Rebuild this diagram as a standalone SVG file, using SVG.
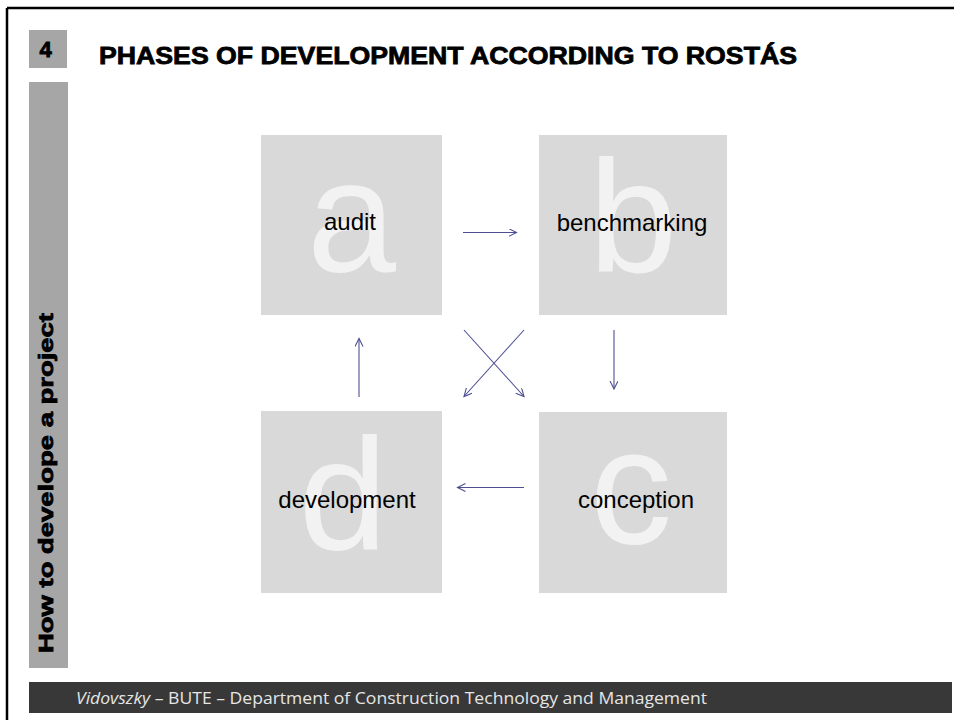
<svg xmlns="http://www.w3.org/2000/svg" width="954" height="720" viewBox="0 0 954 720">
<defs>
<style>
.box{fill:#d9d9d9}
.big{font-family:"Liberation Sans",Arial,sans-serif;fill:#f2f2f2;text-anchor:middle}
.lbl{font-family:"Liberation Sans",Arial,sans-serif;font-size:24px;fill:#000;text-anchor:middle}
.conn line{stroke:#4d4f91;stroke-width:1.1;fill:none;marker-end:url(#ah)}
.heavy{font-family:"Liberation Sans",Arial,sans-serif;font-weight:bold;fill:#000;stroke:#000;stroke-width:0.8}
</style>
<marker id="ah" markerWidth="10" markerHeight="10" refX="8" refY="4" orient="auto" markerUnits="userSpaceOnUse">
<path d="M0,0 L8,4 L0,8" fill="none" stroke="#4d4f91" stroke-width="1.1"/>
</marker>
</defs>
<rect x="0" y="0" width="954" height="720" fill="#fff"/>
<g id="frame">
<line x1="7" y1="8" x2="954" y2="8" stroke="#000" stroke-width="2.5"/>
<line x1="7" y1="8" x2="7" y2="720" stroke="#000" stroke-width="2.5"/>
</g>
<g id="slide-number">
<rect x="29" y="30" width="38" height="38" fill="#a6a6a6"/>
<text x="45.5" y="57" class="heavy" font-size="22" text-anchor="middle">4</text>
</g>
<g id="title">
<text x="99" y="64" class="heavy" font-size="24" textLength="698" lengthAdjust="spacingAndGlyphs">PHASES OF DEVELOPMENT ACCORDING TO ROSTÁS</text>
</g>
<g id="sidebar">
<rect x="29" y="82" width="39" height="586" fill="#a6a6a6"/>
<text transform="translate(53,653) rotate(-90)" class="heavy" font-size="21" textLength="340" lengthAdjust="spacingAndGlyphs">How to develope a project</text>
</g>
<g id="footer">
<rect x="29" y="682" width="923" height="31" fill="#383838"/>
<text x="76" y="704" font-family="'Open Sans','Liberation Sans',sans-serif" font-size="16.5" fill="#e6e6e6" textLength="631" lengthAdjust="spacingAndGlyphs"><tspan font-style="italic">Vidovszky</tspan> – BUTE – Department of Construction Technology and Management</text>
</g>
<g id="node-a">
<rect class="box" x="261" y="135" width="181" height="180"/>
<text class="big" x="351.5" y="271" font-size="160">a</text>
<text class="lbl" x="350" y="230">audit</text>
</g>
<g id="node-b">
<rect class="box" x="539" y="135" width="188" height="180"/>
<text class="big" x="633" y="272" font-size="160">b</text>
<text class="lbl" x="632" y="231">benchmarking</text>
</g>
<g id="node-c">
<rect class="box" x="539" y="412" width="188" height="181"/>
<text class="big" x="631" y="543" font-size="165">c</text>
<text class="lbl" x="636" y="508">conception</text>
</g>
<g id="node-d">
<rect class="box" x="261" y="411" width="181" height="182"/>
<text class="big" x="343" y="550" font-size="160">d</text>
<text class="lbl" x="347" y="508">development</text>
</g>
<g id="connectors" class="conn">
<line x1="463" y1="232.5" x2="516.5" y2="232.5"/>
<line x1="614" y1="330" x2="614" y2="389"/>
<line x1="524" y1="487.5" x2="457.5" y2="487.5"/>
<line x1="359" y1="397" x2="359" y2="338.5"/>
<line x1="464" y1="330" x2="524" y2="396.5"/>
<line x1="524" y1="330" x2="464" y2="396.5"/>
</g>
</svg>
